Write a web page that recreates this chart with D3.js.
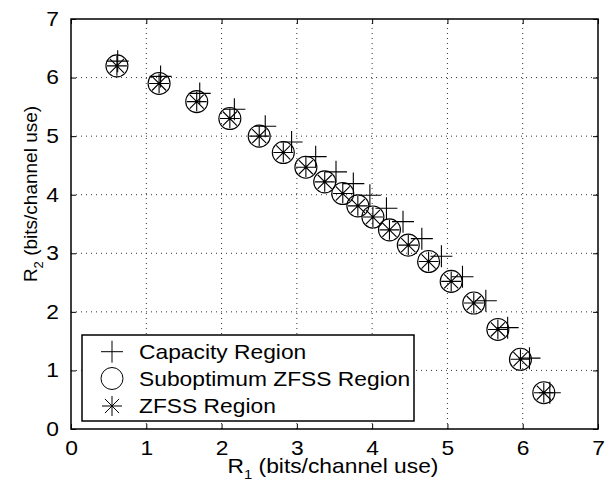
<!DOCTYPE html>
<html>
<head>
<meta charset="utf-8">
<script src="https://cdn.jsdelivr.net/npm/d3@7"></script>
<style>
  body { margin: 0; background: #fff; }
  text { font-family: "Liberation Sans", Arial, Helvetica, sans-serif; fill: #000; }
</style>
</head>
<body>
<svg id="chart" width="609" height="481"></svg>
<script>
// rate pairs
const r1Cap = [0.62, 1.19, 1.71, 2.17, 2.58, 2.93, 3.25, 3.52, 3.75, 3.97, 4.19, 4.41, 4.66, 4.92, 5.20, 5.51, 5.80, 6.09, 6.36];
const r2Cap = [6.28, 6.02, 5.73, 5.46, 5.17, 4.90, 4.65, 4.39, 4.19, 3.99, 3.77, 3.54, 3.25, 2.95, 2.60, 2.19, 1.73, 1.21, 0.62];
const r1Sub = [0.61, 1.17, 1.67, 2.11, 2.50, 2.82, 3.12, 3.37, 3.61, 3.81, 4.01, 4.23, 4.48, 4.75, 5.05, 5.35, 5.67, 5.97, 6.28];
const r2Sub = [6.20, 5.90, 5.59, 5.30, 5.00, 4.72, 4.47, 4.22, 4.02, 3.81, 3.62, 3.40, 3.14, 2.86, 2.52, 2.15, 1.70, 1.19, 0.62];
const r1Zfss = [0.61, 1.17, 1.67, 2.11, 2.50, 2.82, 3.12, 3.37, 3.61, 3.81, 4.01, 4.23, 4.48, 4.75, 5.05, 5.35, 5.67, 5.97, 6.28];
const r2Zfss = [6.20, 5.90, 5.59, 5.30, 5.00, 4.72, 4.47, 4.22, 4.02, 3.81, 3.62, 3.40, 3.14, 2.86, 2.52, 2.15, 1.70, 1.19, 0.62];
const xTicks = [0, 1, 2, 3, 4, 5, 6, 7];
const yTicks = [0, 1, 2, 3, 4, 5, 6, 7];
const legendLabels = ["Capacity Region", "Suboptimum ZFSS Region", "ZFSS Region"];

const svg = d3.select("#chart");
const margin = { left: 71, top: 19, right: 11, bottom: 52 };
const W = 609, H = 481;
const fontSize = 20;
const sx = 1.14; // the original figure's text is a little wide

const x = d3.scaleLinear().domain([0, 7]).range([margin.left, W - margin.right]);
const y = d3.scaleLinear().domain([0, 7]).range([H - margin.bottom, margin.top]);
const fmt = d3.format("d");

svg.append("rect").attr("width", W).attr("height", H).attr("fill", "#fff");

// grid (dotted)
const grid = svg.append("g").attr("stroke", "#333").attr("stroke-width", 1).attr("stroke-dasharray", "1,4");
grid.selectAll(".gx").data(xTicks.slice(1, -1)).join("line")
  .attr("x1", d => x(d)).attr("x2", d => x(d))
  .attr("y1", y(0)).attr("y2", y(7));
grid.selectAll(".gy").data(yTicks.slice(1, -1)).join("line")
  .attr("y1", d => y(d)).attr("y2", d => y(d))
  .attr("x1", x(0)).attr("x2", x(7));

// axes with inward ticks on all four sides
const tickLen = 5;
const bottomAxis = svg.append("g").attr("transform", `translate(0,${y(0)})`)
  .call(d3.axisBottom(x).tickValues(xTicks).tickFormat(fmt).tickSize(-tickLen).tickSizeOuter(0).tickPadding(12));
const topAxis = svg.append("g").attr("transform", `translate(0,${y(7)})`)
  .call(d3.axisTop(x).tickValues(xTicks).tickSize(-tickLen).tickSizeOuter(0).tickFormat(""));
const leftAxis = svg.append("g").attr("transform", `translate(${x(0)},0)`)
  .call(d3.axisLeft(y).tickValues(yTicks).tickFormat(fmt).tickSize(-tickLen).tickSizeOuter(0).tickPadding(10.5));
const rightAxis = svg.append("g").attr("transform", `translate(${x(7)},0)`)
  .call(d3.axisRight(y).tickValues(yTicks).tickSize(-tickLen).tickSizeOuter(0).tickFormat(""));

[bottomAxis, topAxis, leftAxis, rightAxis].forEach(a => {
  a.select(".domain").remove();
  a.selectAll("line").attr("stroke", "#000");
  a.selectAll("text").attr("font-size", fontSize).attr("font-family", null)
    .attr("transform", `scale(${sx},1)`);
});

svg.append("rect")
  .attr("x", x(0)).attr("y", y(7))
  .attr("width", x(7) - x(0)).attr("height", y(0) - y(7))
  .attr("fill", "none").attr("stroke", "#000").attr("stroke-width", 1.5);

// marker drawing helpers
function plusPath(cx, cy, s) {
  return `M${cx - s},${cy}H${cx + s}M${cx},${cy - s}V${cy + s}`;
}
function starPath(cx, cy, s) {
  const d = s * 0.7071;
  return `M${cx - s},${cy}H${cx + s}M${cx},${cy - s}V${cy + s}` +
    `M${cx - d},${cy - d}L${cx + d},${cy + d}M${cx - d},${cy + d}L${cx + d},${cy - d}`;
}

const idx = d3.range(r1Cap.length);
const marks = svg.append("g").attr("fill", "none").attr("stroke", "#000").attr("stroke-width", 1.1);

marks.selectAll(".cap").data(idx).join("path")
  .attr("d", i => plusPath(x(r1Cap[i]), y(r2Cap[i]), 11));
marks.selectAll(".sub").data(idx).join("circle")
  .attr("cx", i => x(r1Sub[i])).attr("cy", i => y(r2Sub[i])).attr("r", 11);
marks.selectAll(".zf").data(idx).join("path")
  .attr("d", i => starPath(x(r1Zfss[i]), y(r2Zfss[i]), 10));

// legend
const lg = svg.append("g");
lg.append("rect").attr("x", 82).attr("y", 335).attr("width", 332).attr("height", 86)
  .attr("fill", "#fff").attr("stroke", "#000").attr("stroke-width", 1.5);
const rows = [351.7, 378.5, 406];
const mx = 112;
lg.append("path").attr("d", plusPath(mx, rows[0], 11)).attr("stroke", "#000").attr("fill", "none");
lg.append("circle").attr("cx", mx).attr("cy", rows[1]).attr("r", 11).attr("stroke", "#000").attr("fill", "none");
lg.append("path").attr("d", starPath(mx, rows[2], 10)).attr("stroke", "#000").attr("fill", "none");
lg.selectAll("text").data(legendLabels).join("text")
  .attr("transform", (d, i) => `translate(139,${rows[i] + 7}) scale(${sx},1)`)
  .attr("font-size", fontSize)
  .text(d => d);

// axis labels
const xl = svg.append("text").attr("transform", `translate(333,473) scale(${sx},1)`)
  .attr("text-anchor", "middle").attr("font-size", fontSize);
xl.append("tspan").text("R");
xl.append("tspan").attr("dy", 6).attr("font-size", 13).text("1");
xl.append("tspan").attr("dy", -6).text(" (bits/channel use)");

const yl = svg.append("text").attr("transform", "translate(37,194) rotate(-90)")
  .attr("text-anchor", "middle").attr("font-size", 19);
yl.append("tspan").text("R");
yl.append("tspan").attr("dy", 6).attr("font-size", 13).text("2");
yl.append("tspan").attr("dy", -6).text(" (bits/channel use)");
</script>
</body>
</html>
